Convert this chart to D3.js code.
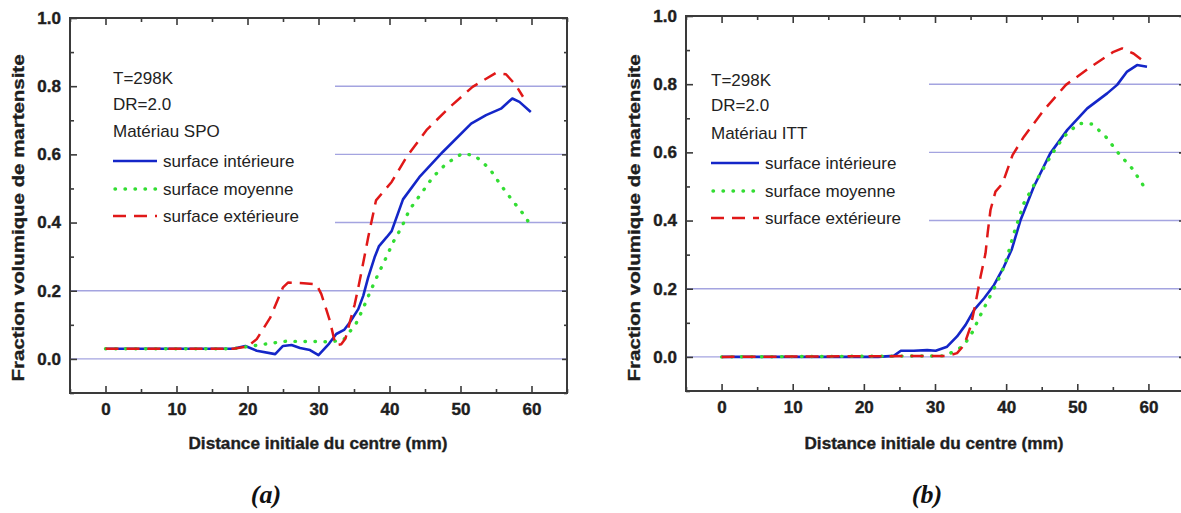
<!DOCTYPE html>
<html>
<head>
<meta charset="utf-8">
<script src="https://cdn.jsdelivr.net/npm/d3@7"></script>
<style>
  html, body { margin: 0; padding: 0; background: #fff; }
  svg { display: block; }
</style>
</head>
<body>
<svg id="chart" width="1181" height="513" font-family="'Liberation Sans', Arial, sans-serif"></svg>
<script>
// ---------- data ----------
const xTicksMajor = [0, 10, 20, 30, 40, 50, 60];
const xTicksMinor = [-5, 5, 15, 25, 35, 45, 55, 65];
const yTicksMajor = [0.0, 0.2, 0.4, 0.6, 0.8, 1.0];
const yTicksMinor = [-0.1, 0.1, 0.3, 0.5, 0.7, 0.9];
const gridValues = [0.0, 0.2, 0.4, 0.6, 0.8];

const seriesNames = ["surface intérieure", "surface moyenne", "surface extérieure"];
const infoA = ["T=298K", "DR=2.0", "Matériau SPO"];
const infoB = ["T=298K", "DR=2.0", "Matériau ITT"];

// Panel (a) — Matériau SPO
const a_interieure = [[0,0.03],[5,0.03],[10,0.03],[15,0.03],[18,0.03],[19.7,0.038],[21.3,0.024],[23.9,0.014],[25,0.038],[26.2,0.041],[27.4,0.032],[28.8,0.026],[30,0.011],[31.5,0.045],[32.5,0.073],[33.6,0.085],[34.4,0.107],[35.6,0.146],[36.3,0.185],[37,0.239],[37.9,0.298],[38.5,0.33],[39.6,0.357],[40.3,0.375],[41.9,0.468],[44.2,0.533],[47.5,0.607],[51.5,0.69],[53.6,0.715],[55.7,0.734],[57.3,0.764],[58.3,0.754],[59.9,0.724]];
const a_moyenne = [[0,0.03],[18,0.03],[20,0.036],[22,0.042],[25.5,0.052],[27.6,0.051],[29.7,0.051],[31.5,0.05],[33.5,0.055],[35.3,0.104],[36.3,0.149],[37.3,0.198],[38.3,0.244],[39.5,0.296],[40.5,0.342],[41.7,0.386],[42.8,0.437],[44.5,0.486],[46.1,0.533],[48,0.573],[50.2,0.602],[52,0.597],[54.1,0.558],[55.7,0.509],[57.3,0.465],[59.2,0.416],[59.6,0.40]];
const a_exterieure = [[0,0.03],[18,0.03],[20,0.036],[21.3,0.058],[23.2,0.121],[25,0.21],[25.7,0.224],[27.9,0.222],[29.7,0.219],[30.4,0.19],[31.6,0.112],[32.4,0.04],[33.2,0.043],[33.8,0.06],[34.4,0.107],[35.1,0.16],[35.8,0.229],[36.5,0.303],[37,0.357],[38.1,0.465],[40.3,0.519],[42.4,0.592],[45.2,0.671],[48.5,0.739],[51.7,0.798],[55,0.839],[56.4,0.835],[57.8,0.803],[58.8,0.769]];

// Panel (b) — Matériau ITT
const b_interieure = [[0,0],[22,0],[24.2,0.003],[25.2,0.018],[27,0.018],[28.9,0.02],[30.1,0.018],[31.7,0.03],[33.1,0.06],[34.3,0.094],[35.5,0.138],[36.9,0.172],[38.3,0.211],[39.7,0.265],[40.8,0.316],[42,0.4],[43.9,0.5],[46.2,0.597],[48.6,0.666],[51.4,0.729],[54.2,0.773],[55.6,0.798],[57,0.837],[58.4,0.856],[59.8,0.851]];
const b_moyenne = [[0,0],[31.3,0.003],[33.1,0.02],[34.1,0.035],[35.3,0.074],[36.4,0.123],[37.6,0.172],[38.8,0.221],[39.9,0.275],[41.1,0.363],[42.5,0.451],[43.9,0.504],[45.1,0.548],[46.5,0.597],[48.1,0.646],[50.2,0.685],[52.1,0.683],[54,0.646],[55.8,0.597],[57.7,0.553],[59.1,0.509],[59.6,0.49]];
const b_exterieure = [[0,0],[31.7,0.003],[33.1,0.011],[34.1,0.035],[35,0.089],[35.7,0.157],[36.4,0.235],[37.1,0.304],[37.4,0.363],[37.8,0.431],[38.5,0.485],[39.5,0.509],[40.9,0.592],[42.5,0.646],[45.3,0.724],[48.4,0.798],[51.9,0.851],[55.1,0.895],[56.3,0.905],[57.9,0.89],[59.4,0.866]];

const xTitle = "Distance initiale du centre (mm)";
const yTitle = "Fraction volumique de martensite";

// ---------- styles ----------
const styles = [
  { color: "#1426c8", dash: null, width: 2.6, cap: "butt" },
  { color: "#33dd33", dash: "0.5,9.5", width: 3.4, cap: "round" },
  { color: "#e01818", dash: "13,8", width: 2.5, cap: "butt" }
];

const sansFont = "'Liberation Sans', Arial, sans-serif";
const serifFont = "'Liberation Serif', 'Times New Roman', serif";
const svg = d3.select("#chart");

function drawPanel(cfg) {
  const x = d3.scaleLinear().domain([-5, 65]).range([cfg.left, cfg.right]);
  const y = d3.scaleLinear().domain([-0.1, 1.0]).range([cfg.bottom, cfg.top]);
  const g = svg.append("g");

  // gridlines
  g.selectAll("line.grid").data(gridValues).enter().append("line")
    .attr("x1", cfg.left).attr("x2", cfg.right)
    .attr("y1", d => y(d)).attr("y2", d => y(d))
    .attr("stroke", "#a4a4e0").attr("stroke-width", 1.4);

  // legend background (hides grid lines behind the legend)
  g.append("rect")
    .attr("x", cfg.left + 1).attr("y", cfg.top + 30)
    .attr("width", cfg.legendRight - cfg.left - 1).attr("height", 190)
    .attr("fill", "#fff");

  // series
  const line = d3.line().x(d => x(d[0])).y(d => y(d[1]));
  cfg.series.forEach((s, i) => {
    const st = styles[i];
    g.append("path").datum(s)
      .attr("d", line)
      .attr("fill", "none")
      .attr("stroke", st.color)
      .attr("stroke-width", st.width)
      .attr("stroke-linecap", st.cap)
      .attr("stroke-linejoin", "round")
      .attr("stroke-dasharray", st.dash);
  });

  // axes
  const axColor = "#3a3a3a";
  g.append("g").attr("transform", `translate(0,${cfg.bottom})`)
    .call(d3.axisBottom(x).tickValues(xTicksMajor).tickFormat(d3.format("d")).tickSizeInner(-7).tickSizeOuter(0).tickPadding(10));
  g.append("g").attr("transform", `translate(0,${cfg.bottom})`)
    .call(d3.axisBottom(x).tickValues(xTicksMinor).tickFormat("").tickSizeInner(-4).tickSizeOuter(0));
  g.append("g").attr("transform", `translate(0,${cfg.top})`)
    .call(d3.axisTop(x).tickValues(xTicksMajor).tickFormat("").tickSizeInner(-7).tickSizeOuter(0));
  g.append("g").attr("transform", `translate(0,${cfg.top})`)
    .call(d3.axisTop(x).tickValues(xTicksMinor).tickFormat("").tickSizeInner(-4).tickSizeOuter(0));
  g.append("g").attr("transform", `translate(${cfg.left},0)`)
    .call(d3.axisLeft(y).tickValues(yTicksMajor).tickFormat(d3.format(".1f")).tickSizeInner(-7).tickSizeOuter(0).tickPadding(9));
  g.append("g").attr("transform", `translate(${cfg.left},0)`)
    .call(d3.axisLeft(y).tickValues(yTicksMinor).tickFormat("").tickSizeInner(-4).tickSizeOuter(0));
  g.append("g").attr("transform", `translate(${cfg.right},0)`)
    .call(d3.axisRight(y).tickValues(yTicksMajor).tickFormat("").tickSizeInner(-5).tickSizeOuter(0));
  g.append("g").attr("transform", `translate(${cfg.right},0)`)
    .call(d3.axisRight(y).tickValues(yTicksMinor).tickFormat("").tickSizeInner(-3).tickSizeOuter(0));

  g.selectAll(".domain").remove();
  g.selectAll(".tick line").attr("stroke", axColor).attr("stroke-width", 1.6);
  g.selectAll(".tick text")
    .attr("fill", "#1e1e1e").attr("stroke", "#1e1e1e").attr("stroke-width", 0.4)
    .style("font-size", "17px").style("font-weight", "bold")
    .style("font-family", sansFont);

  // frame
  g.append("rect")
    .attr("x", cfg.left).attr("y", cfg.top)
    .attr("width", cfg.right - cfg.left).attr("height", cfg.bottom - cfg.top)
    .attr("fill", "none").attr("stroke", axColor).attr("stroke-width", 2);

  // axis titles
  g.append("text")
    .attr("x", cfg.xTitleX).attr("y", 449)
    .attr("text-anchor", "middle")
    .style("font-size", "16px").style("font-weight", "bold")
    .attr("fill", "#1e1e1e").attr("stroke", "#1e1e1e").attr("stroke-width", 0.35)
    .attr("textLength", 259).attr("lengthAdjust", "spacingAndGlyphs")
    .text(xTitle);
  g.append("text")
    .attr("transform", `translate(${cfg.yTitleX},218) rotate(-90)`)
    .attr("text-anchor", "middle")
    .style("font-size", "16px").style("font-weight", "bold")
    .attr("fill", "#1e1e1e").attr("stroke", "#1e1e1e").attr("stroke-width", 0.35)
    .attr("textLength", 327).attr("lengthAdjust", "spacingAndGlyphs")
    .text(yTitle);

  // legend info text
  cfg.info.forEach((t, i) => {
    g.append("text")
      .attr("x", cfg.legX).attr("y", cfg.infoY[i])
      .style("font-size", "17px").attr("fill", "#222")
      .text(t);
  });
  seriesNames.forEach((name, i) => {
    const st = styles[i];
    const ly = cfg.itemY[i];
    g.append("line")
      .attr("x1", cfg.legX + (i === 1 ? 2 : 0)).attr("x2", cfg.legX + cfg.sampleLen)
      .attr("y1", ly).attr("y2", ly)
      .attr("stroke", st.color).attr("stroke-width", st.width)
      .attr("stroke-linecap", st.cap)
      .attr("stroke-dasharray", st.dash);
    g.append("text")
      .attr("x", cfg.legX + cfg.sampleLen + 6).attr("y", ly + 6)
      .style("font-size", "17px").attr("fill", "#222")
      .text(name);
  });

  // caption
  g.append("text")
    .attr("x", cfg.capX).attr("y", 503)
    .attr("text-anchor", "middle")
    .style("font-family", serifFont)
    .style("font-size", "26px").style("font-weight", "bold").style("font-style", "italic")
    .attr("fill", "#111")
    .text(cfg.caption);
}

drawPanel({
  left: 70, right: 567, top: 18, bottom: 393,
  legendRight: 335,
  series: [a_interieure, a_moyenne, a_exterieure],
  info: infoA, legX: 113, sampleLen: 44,
  infoY: [84, 110, 137], itemY: [161, 189, 216],
  xTitleX: 318, yTitleX: 24, capX: 266, caption: "(a)"
});

drawPanel({
  left: 686, right: 1184, top: 16, bottom: 391,
  legendRight: 929,
  series: [b_interieure, b_moyenne, b_exterieure],
  info: infoB, legX: 711, sampleLen: 48,
  infoY: [86, 111, 139], itemY: [163, 191, 218],
  xTitleX: 934, yTitleX: 640, capX: 927, caption: "(b)"
});
</script>
</body>
</html>
